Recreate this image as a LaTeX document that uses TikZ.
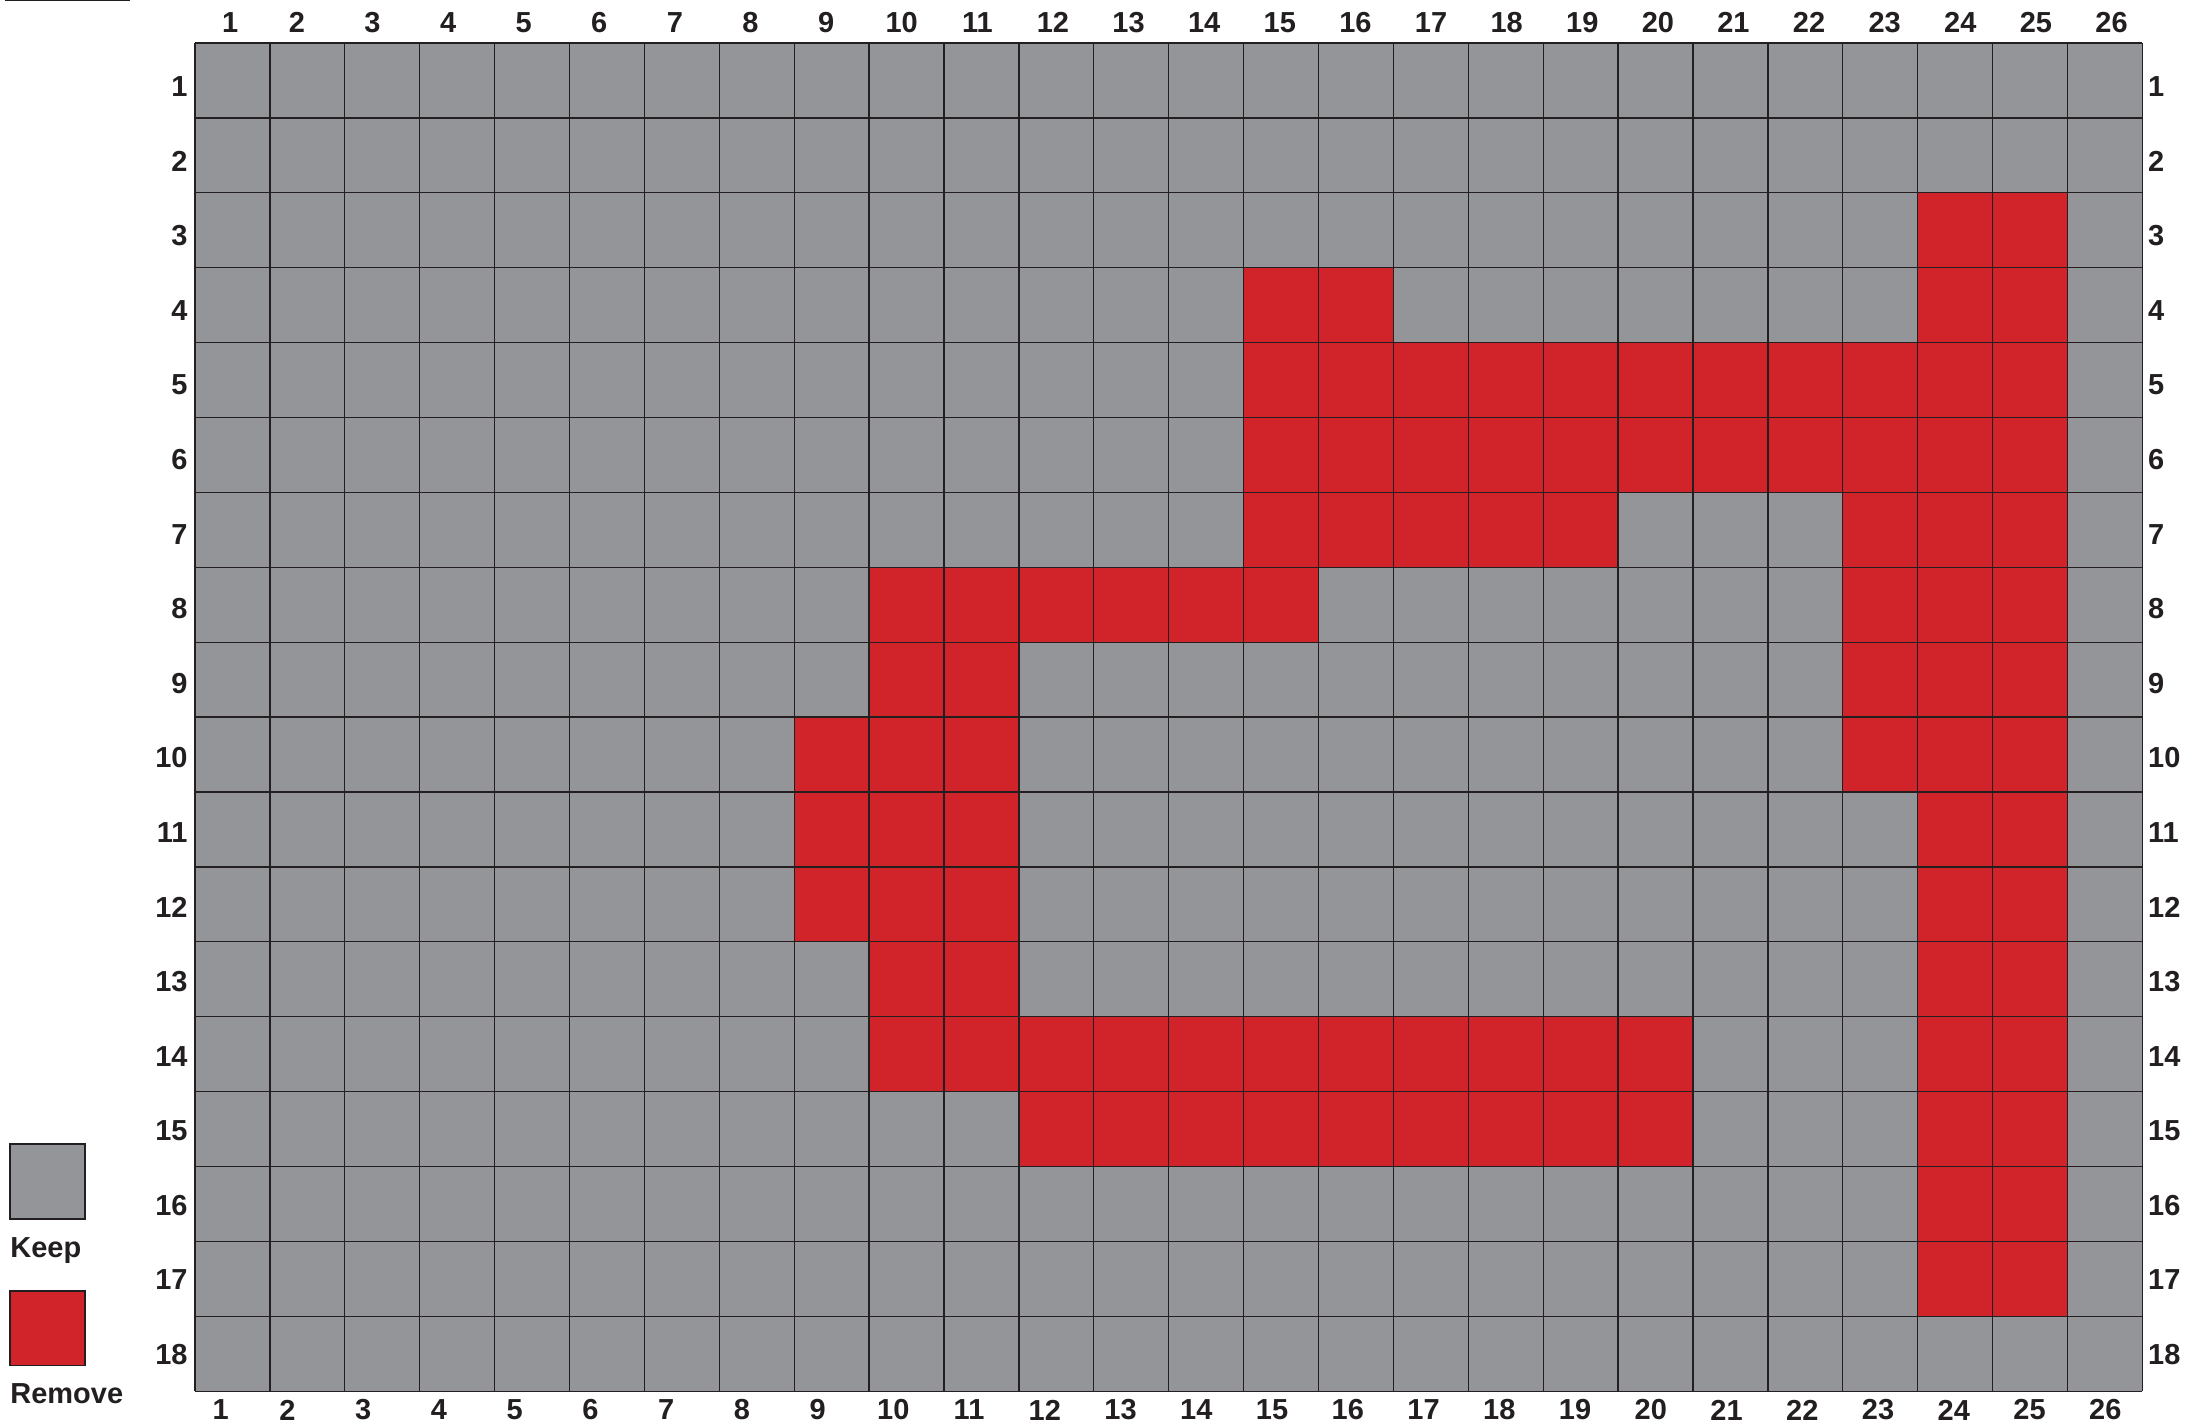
\documentclass[tikz,border=0pt]{standalone}
\usepackage{fontspec}
\setmainfont{Liberation Sans}
\usepackage{xcolor}
\usepackage{tikz}

\definecolor{keepgray}{HTML}{939598}
\definecolor{removered}{HTML}{D1232A}
\definecolor{gridblack}{HTML}{231F20}

\begin{document}
\begin{tikzpicture}[x=1cm, y=-1cm,
	numlabel/.style={inner sep=0pt, text=gridblack, font=\fontsize{11}{13}\selectfont\bfseries},
	gridline/.style={gridblack, line width=0.5pt},
	legendbox/.style={draw=gridblack, line width=0.5pt, minimum size=1cm, inner sep=0pt}]
			\def\nc{26}
			\def\nr{18}
			\useasboundingbox (-2.603,-0.574) rectangle (26.609,18.478);
			
			\draw[gridline] (-2.537,-0.568) -- (-0.868,-0.568);
			
			% cells to keep
			\fill[keepgray] (0,0) rectangle (\nc,\nr);
			
			% cells to remove: row / first column / last column
			\foreach \r/\a/\b in {3/24/25, 4/15/16, 4/24/25, 5/15/25, 6/15/25,
				7/15/19, 7/23/25, 8/10/15, 8/23/25, 9/10/11, 9/23/25,
				10/9/11, 10/23/25, 11/9/11, 11/24/25, 12/9/11, 12/24/25,
				13/10/11, 13/24/25, 14/10/20, 14/24/25, 15/12/20, 15/24/25,
				16/24/25, 17/24/25}
				\fill[removered] (\a-1,\r-1) rectangle (\b,\r);
			
			% grid
			\foreach \i in {0,...,\nc}
				\draw[gridline] (\i,0) -- (\i,\nr);
			\foreach \j in {0,...,\nr}
				\draw[gridline] (0,\j) -- (\nc,\j);
			
			% column numbers
			\foreach \c in {1,...,\nc} {
				\pgfmathsetmacro{\xTop}{\c-0.64+0.0095*(\c-2)+0.12*(\c==1)}
				\pgfmathsetmacro{\xBot}{\c-0.767+0.0113*(\c-2)+0.12*(\c==1)}
				\node[numlabel] (top-\c) at (\xTop,-0.274) {\c};
				\node[numlabel] (bot-\c) at (\xBot,18.25) {\c};
			}
			
			% row numbers
			\foreach \r in {1,...,\nr} {
				\pgfmathsetmacro{\yRow}{\r-0.415-0.0045*(\r-1)}
				\node[numlabel, anchor=east] (left-\r) at (-0.093,\yRow) {\r};
				\node[numlabel, anchor=west] (right-\r) at (26.07,\yRow) {\r};
			}
			
			% legend
			\node[legendbox, fill=keepgray] (keep) at (-1.97,15.2) {};
			\node[numlabel, anchor=base west] (keep-text) at (-2.47,16.21) {Keep};
			\node[legendbox, fill=removered] (remove) at (-1.97,17.16) {};
			\node[numlabel, anchor=base west] (remove-text) at (-2.47,18.16) {Remove};
			\end{tikzpicture}
\end{document}
